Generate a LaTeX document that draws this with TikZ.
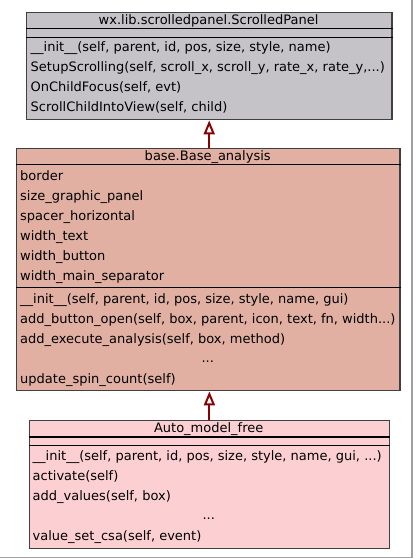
\documentclass[tikz,border=0pt]{standalone}
\usepackage{fontspec}
\setmainfont{DejaVu Sans}
\usetikzlibrary{arrows.meta,positioning}

\definecolor{panelgrey}{RGB}{197,195,200}
\definecolor{basesalmon}{RGB}{226,176,163}
\definecolor{autopink}{RGB}{252,208,211}
\definecolor{boxline}{RGB}{64,64,64}
\definecolor{inheritred}{RGB}{139,0,0}
\definecolor{framegrey}{RGB}{160,160,160}

\begin{document}
\begin{tikzpicture}[x=1pt,y=-1pt,font=\fontsize{13}{15}\selectfont]
   \tikzstyle{classbox}=[draw=boxline,line width=1.4pt,inner sep=0pt,anchor=north west]
   \tikzstyle{row}=[anchor=base west,inner sep=0pt]
   \tikzstyle{title}=[anchor=base,inner sep=0pt]
   \tikzstyle{sep}=[draw=black,line width=1.2pt]
   \tikzset{extends/.style={draw=inheritred,line width=2pt,-{Triangle[open,length=14pt,width=11pt,fill=white]}}}
   \useasboundingbox (0,0) rectangle (415,559);

   % class boxes
   \node[classbox,fill=panelgrey,minimum width=365.6pt,minimum height=107.3pt]  (panel)  at (25.7,11.7)  {};
   \node[classbox,fill=basesalmon,minimum width=383.3pt,minimum height=242pt]  (base)  at (16,148)  {};
   \node[classbox,fill=autopink,minimum width=360pt,minimum height=127.7pt]  (auto)  at (28.7,420)  {};

   \draw[sep] ([yshift=-16.6pt]panel.north west) -- ([yshift=-16.6pt]panel.north east);
   \draw[sep] ([yshift=-25.6pt]panel.north west) -- ([yshift=-25.6pt]panel.north east);
   \draw[sep] ([yshift=-16.3pt]base.north west) -- ([yshift=-16.3pt]base.north east);
   \draw[sep] ([yshift=-139.7pt]base.north west) -- ([yshift=-139.7pt]base.north east);
   \draw[sep] ([yshift=-17pt]auto.north west) -- ([yshift=-17pt]auto.north east);
   \draw[sep] ([yshift=-25.3pt]auto.north west) -- ([yshift=-25.3pt]auto.north east);

   % wx.lib.scrolledpanel.ScrolledPanel
   \node[title]  (panel-name)  at (208.5,24.5)  {wx.lib.scrolledpanel.ScrolledPanel};
   \node[row]  (panel-m1)  at (30.5,52)  {\_\_init\_\_(self, parent, id, pos, size, style, name)};
   \node[row]  (panel-m2)  at (30.5,72)  {SetupScrolling(self, scroll\_x, scroll\_y, rate\_x, rate\_y,...)};
   \node[row]  (panel-m3)  at (30.5,92)  {OnChildFocus(self, evt)};
   \node[row]  (panel-m4)  at (30.5,112)  {ScrollChildIntoView(self, child)};

   % base.Base_analysis
   \node[title]  (base-name)  at (207.7,160)  {base.Base\_analysis};
   \node[row]  (base-a1)  at (20,180)  {border};
   \node[row]  (base-a2)  at (20,200)  {size\_graphic\_panel};
   \node[row]  (base-a3)  at (20,220)  {spacer\_horizontal};
   \node[row]  (base-a4)  at (20,240)  {width\_text};
   \node[row]  (base-a5)  at (20,260)  {width\_button};
   \node[row]  (base-a6)  at (20,280)  {width\_main\_separator};
   \node[row]  (base-m1)  at (20,303.5)  {\_\_init\_\_(self, parent, id, pos, size, style, name, gui)};
   \node[row]  (base-m2)  at (20,323.5)  {add\_button\_open(self, box, parent, icon, text, fn, width...)};
   \node[row]  (base-m3)  at (20,343.5)  {add\_execute\_analysis(self, box, method)};
   \node[title]  (base-dots)  at (207.7,362)  {...};
   \node[row]  (base-m4)  at (20,383.5)  {update\_spin\_count(self)};

   % Auto_model_free
   \node[title]  (auto-name)  at (208.7,432)  {Auto\_model\_free};
   \node[row]  (auto-m1)  at (32.5,460)  {\_\_init\_\_(self, parent, id, pos, size, style, name, gui, ...)};
   \node[row]  (auto-m2)  at (32.5,480)  {activate(self)};
   \node[row]  (auto-m3)  at (32.5,500)  {add\_values(self, box)};
   \node[title]  (auto-dots)  at (208.7,519)  {...};
   \node[row]  (auto-m4)  at (32.5,540)  {value\_set\_csa(self, event)};

   % inheritance
   \draw[extends]  (base.north -| panel.south)  --  (panel.south);
   \draw[extends]  (auto.north)  --  (base.south -| auto.north);

   % frame
   \draw[framegrey,line width=1.2pt] (412,0) -- (412,557.8) -- (0,557.8);
\end{tikzpicture}
\end{document}
